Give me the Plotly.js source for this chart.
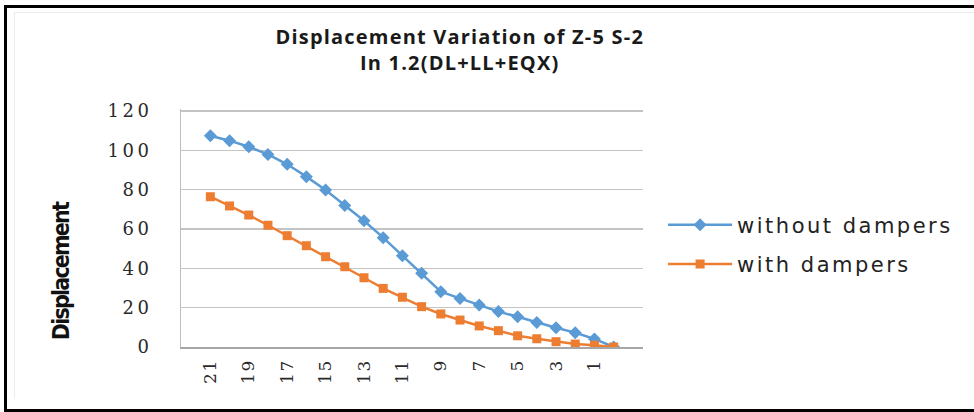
<!DOCTYPE html>
<html>
<head>
<meta charset="utf-8">
<script src="https://cdn.plot.ly/plotly-3.0.1.min.js"></script>
<style>
  html, body { margin: 0; padding: 0; background: #fff; }
  #wrap { position: relative; width: 974px; height: 412px; overflow: hidden; }
  #chart { position: absolute; left: 0; top: 0; width: 974px; height: 412px; }
  #frame {
    position: absolute; left: 4px; top: 5px; width: 1000px; height: 401px;
    border-top: 3px solid #000; border-left: 3px solid #000; border-bottom: 3px solid #000;
    pointer-events: none;
  }
  #inner {
    position: absolute; left: 14px; top: 12px; width: 1000px; height: 386px;
    border-top: 1px solid #ececec; border-left: 1px solid #ececec;
    pointer-events: none;
  }
  .gtitle { letter-spacing: 1.2px; }
  .ytick text { letter-spacing: 3.5px; }
  .xtick text { letter-spacing: 1.5px; }
  .legendtext { letter-spacing: 2.5px; }
  .annotation-text { letter-spacing: -1.8px; }
</style>
</head>
<body>
<div id="wrap">
  <div id="chart"></div>
  <div id="inner"></div>
  <div id="frame"></div>
</div>
<script>
// Storey levels, top floor first
const storeys = ['21','20','19','18','17','16','15','14','13','12','11',
                 '10','9','8','7','6','5','4','3','2','1','0'];
// Only every other storey gets a label on the axis
const storeyLabels = ['21','19','17','15','13','11','9','7','5','3','1'];

// Displacement at each storey (mm)
const withoutDampers = [107.4, 104.9, 101.8, 97.9, 92.9, 86.6, 79.8, 72.0, 64.2, 55.6, 46.4,
                        37.5, 28.1, 24.7, 21.4, 18.0, 15.4, 12.5, 9.8, 7.3, 4.1, 0];
const withDampers    = [76.4, 71.7, 67.1, 61.9, 56.6, 51.5, 45.9, 40.8, 35.2, 29.8, 25.3,
                        20.5, 16.8, 13.7, 10.7, 8.3, 5.7, 4.2, 2.7, 1.5, 0.9, 0];

const traces = [
  {
    x: storeys, y: withoutDampers, name: 'without dampers', type: 'scatter',
    mode: 'lines+markers', legendgroup: 'a',
    line: { color: '#5B9BD5', width: 2.5 },
    marker: { symbol: 'diamond', size: 10, color: '#5B9BD5' }
  },
  {
    x: storeys, y: withDampers, name: 'with dampers', type: 'scatter',
    mode: 'lines+markers', legendgroup: 'b',
    line: { color: '#ED7D31', width: 2.5 },
    marker: { symbol: 'square', size: 9, color: '#ED7D31' }
  }
];

const layout = {
  width: 974, height: 412,
  margin: { l: 181, r: 331, t: 109, b: 65 },
  paper_bgcolor: '#fff', plot_bgcolor: '#fff',
  title: {
    text: 'Displacement Variation of Z-5 S-2<br>In 1.2(DL+LL+EQX)',
    font: { family: 'Open Sans, sans-serif', size: 20, color: '#1a1a1a', weight: 'bold' },
    x: 0.472, xref: 'container', xanchor: 'center',
    y: 1 - 44 / 412, yref: 'container', yanchor: 'top'
  },
  xaxis: {
    type: 'category',
    tickmode: 'array', tickvals: storeyLabels, ticktext: storeyLabels,
    tickangle: -90,
    tickfont: { family: 'DejaVu Serif, serif', size: 17, color: '#2a2a2a' },
    showgrid: false, zeroline: false,
    showline: true, linecolor: '#a6a6a6', linewidth: 1.5,
    ticks: '', ticklabelstandoff: 4,
    fixedrange: true
  },
  yaxis: {
    range: [0, 121], tickmode: 'array', tickvals: [0, 20, 40, 60, 80, 100, 120],
    tickfont: { family: 'DejaVu Serif, serif', size: 18, color: '#2a2a2a' },
    showgrid: true, gridcolor: '#c4c4c4', gridwidth: 1.3,
    zeroline: false, showline: true, linecolor: '#bdbdbd', linewidth: 1,
    ticks: '', ticklabelstandoff: 24,
    fixedrange: true
  },
  annotations: [{
    text: 'Displacement', textangle: -90, showarrow: false,
    xref: 'paper', yref: 'paper', x: -0.26, y: 0.322,
    xanchor: 'center', yanchor: 'middle',
    font: { family: 'DejaVu Sans Condensed, Liberation Sans, sans-serif', size: 23, color: '#111', weight: 'bold' }
  }],
  showlegend: true,
  legend: {
    x: 1.0435, xanchor: 'left', y: 0.43, yanchor: 'middle',
    font: { family: 'DejaVu Sans, sans-serif', size: 21, color: '#222' },
    itemwidth: 64, tracegroupgap: 9,
    bgcolor: 'rgba(0,0,0,0)'
  }
};

Plotly.newPlot('chart', traces, layout, { staticPlot: true, displayModeBar: false });
</script>
</body>
</html>
